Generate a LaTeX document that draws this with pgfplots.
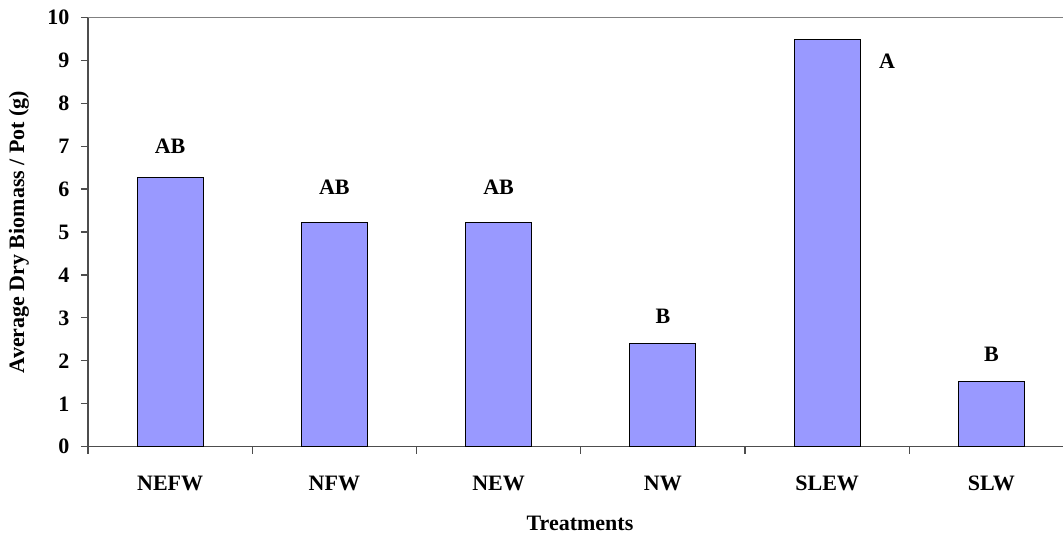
\documentclass[border=0pt]{standalone}
\usepackage{fontspec}
\setmainfont{Liberation Serif}
\usepackage{pgfplots}
\pgfplotsset{compat=1.18}
\definecolor{barblue}{HTML}{9999FF}
\definecolor{axisgray}{HTML}{4D4D4D}
\definecolor{gridgray}{HTML}{808080}

\pgfplotstableread{
x  biomass
0  6.27
1  5.21
2  5.23
3  2.41
4  9.49
5  1.51
}\biomassdata

\newcommand{\lblfont}{\bfseries\fontsize{22}{22}\selectfont}

\begin{document}
\begin{tikzpicture}
\begin{axis}[
  scale only axis,
  width=975pt, height=429.4pt,
  xmin=-0.5, xmax=5.436,
  ymin=0, ymax=10,
  axis lines*=left,
  axis line style={draw=axisgray, line width=1.2pt},
  tick style={draw=axisgray, line width=1.2pt},
  tick align=outside,
  major tick length=7pt,
  ytick={0,1,...,10},
  xtick={-0.5,0.5,1.5,2.5,3.5,4.5},
  xticklabels={NEFW,NFW,NEW,NW,SLEW,SLW},
  xticklabel style={font=\lblfont, xshift=82.125pt, yshift=-19pt},
  yticklabel style={font=\lblfont, xshift=-8pt},
  /pgf/number format/assume math mode=true,
  ylabel={Average Dry Biomass / Pot (g)},
  xlabel={Treatments},
  every axis y label/.style={at={(axis description cs:-0.0708,0.5)}, rotate=90, anchor=center, font=\lblfont},
  every axis x label/.style={at={(axis description cs:0.5046,-0.1777)}, anchor=center, font=\lblfont},
  clip=false,
]
\draw[gridgray, line width=1pt] (axis cs:-0.5,10) -- (axis cs:5.436,10);
\addplot[ybar, bar width=66pt, fill=barblue, draw=black, line width=1pt]
  table[x=x, y=biomass] {\biomassdata};
\node[font=\lblfont] at (axis cs:0,7.0) {AB};
\node[font=\lblfont] at (axis cs:1,6.05) {AB};
\node[font=\lblfont] at (axis cs:2,6.05) {AB};
\node[font=\lblfont] at (axis cs:3,3.04) {B};
\node[font=\lblfont] at (axis cs:4.365,8.97) {A};
\node[font=\lblfont] at (axis cs:5,2.16) {B};
\coordinate (O) at (rel axis cs:0,0);
\end{axis}
\pgfresetboundingbox
\path[use as bounding box] ([xshift=-88pt,yshift=-89.3pt]O) rectangle ++(1063pt,536pt);
\end{tikzpicture}
\end{document}
